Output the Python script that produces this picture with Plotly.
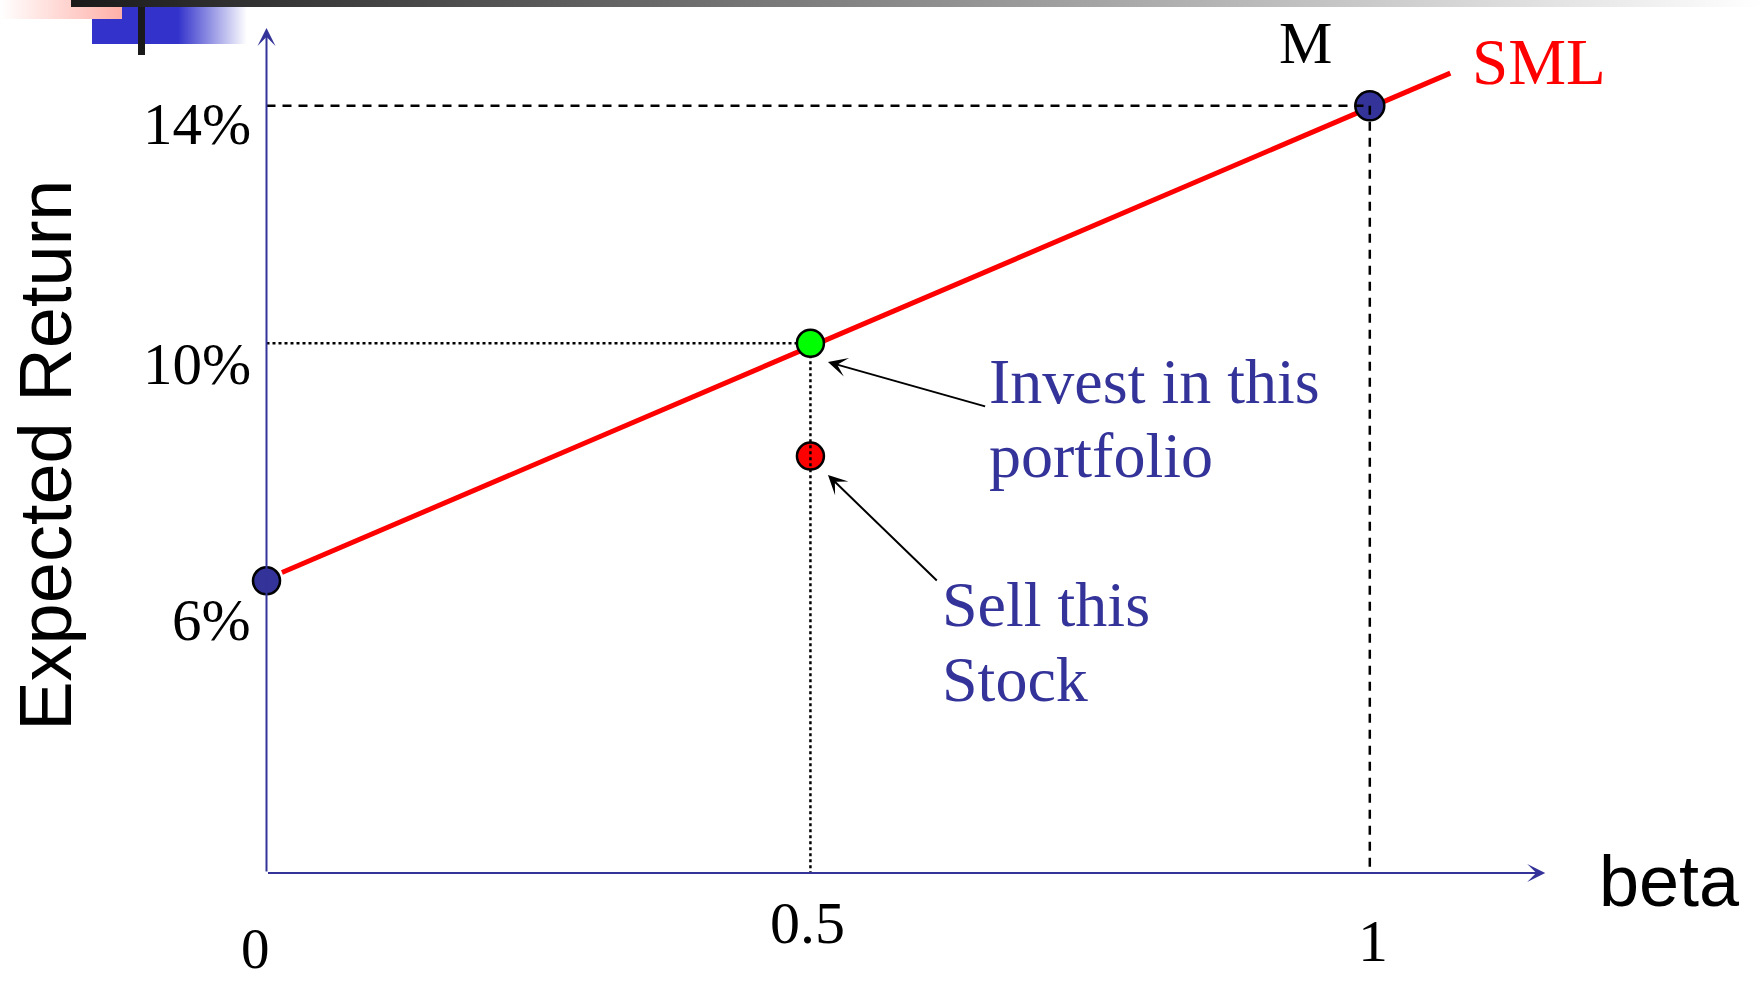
import base64
import plotly.graph_objects as go

# ---------------- data ----------------
point_names = ["Risk-free", "Invest in this portfolio", "Sell this Stock", "M"]
point_beta = [0.0, 0.493, 0.493, 1.0]
point_return = [6.0, 10.0, 8.1, 14.0]

sml_beta = [0.014, 1.073]
sml_return = [6.14, 14.55]

y_tick_values = [14, 10, 6]
y_tick_labels = ["14%", "10%", "6%"]
x_tick_values = [0, 0.5, 1]
x_tick_labels = ["0", "0.5", "1"]

# ---------------- layout constants ----------------
W, H = 1762, 984
X_RANGE = [-0.24155, 1.35548]
Y_RANGE = [-0.791, 15.782]
AXIS_R = 1.08          # level of the drawn beta axis
Y_ARROW_TOP = 15.31
X_ARROW_END = 1.159

SERIF = "Liberation Serif, Times New Roman, serif"
SANS = "Liberation Sans, Arial, sans-serif"
NAVY = "#333399"

fig = go.Figure()

# SML
fig.add_trace(go.Scatter(x=sml_beta, y=sml_return, mode="lines",
                         line=dict(color="#ff0000", width=5), hoverinfo="skip"))


def dot(i, color, size=27):
    fig.add_trace(go.Scatter(x=[point_beta[i]], y=[point_return[i]], mode="markers",
                             name=point_names[i],
                             marker=dict(size=size, color=color,
                                         line=dict(color="black", width=2.5))))


dot(0, NAVY)
dot(2, "#ff0000")
# dotted guide lines to the fair portfolio
fig.add_trace(go.Scatter(x=[point_beta[1], point_beta[1]], y=[point_return[1], AXIS_R],
                         mode="lines", line=dict(color="black", width=2.5, dash="3px,3px")))
fig.add_trace(go.Scatter(x=[0, point_beta[1]], y=[point_return[1], point_return[1]],
                         mode="lines", line=dict(color="black", width=2.5, dash="3px,3px")))
dot(1, "#00ff00")
dot(3, NAVY, 29)
# dashed guide lines to M
fig.add_trace(go.Scatter(x=[0, point_beta[3]], y=[point_return[3], point_return[3]],
                         mode="lines", line=dict(color="black", width=2.5, dash="9px,7px")))
fig.add_trace(go.Scatter(x=[point_beta[3], point_beta[3]], y=[point_return[3], AXIS_R],
                         mode="lines", line=dict(color="black", width=2.5, dash="9px,7px")))

ann = []
# axes with arrows
ann.append(dict(x=0, y=Y_ARROW_TOP, ax=0, ay=AXIS_R, xref="x", yref="y", axref="x", ayref="y",
                text="", showarrow=True, arrowhead=3, arrowwidth=2, arrowsize=1.5,
                arrowcolor=NAVY, standoff=0, startstandoff=0))
ann.append(dict(x=X_ARROW_END, y=AXIS_R, ax=0, ay=AXIS_R, xref="x", yref="y", axref="x", ayref="y",
                text="", showarrow=True, arrowhead=3, arrowwidth=2, arrowsize=1.5,
                arrowcolor=NAVY, standoff=0, startstandoff=0))

# y tick labels
y_label_shift = [-0.31, -0.35, -0.66]
for v, t, s in zip(y_tick_values, y_tick_labels, y_label_shift):
    ann.append(dict(x=-0.0118, y=v + s, xref="x", yref="y", text=t, showarrow=False,
                    xanchor="right", yanchor="middle",
                    font=dict(family=SERIF, size=59, color="black")))
# x tick labels (label, x, y, font size)
x_label_pos = [(-0.0104, -0.20, 57), (0.4899, 0.23, 60), (1.003, -0.06, 60)]
for t, (xx, yy, fs) in zip(x_tick_labels, x_label_pos):
    ann.append(dict(x=xx, y=yy, xref="x", yref="y", text=t, showarrow=False,
                    xanchor="center", yanchor="middle",
                    font=dict(family=SERIF, size=fs, color="black")))

# axis titles
ann.append(dict(x=1.2055, y=0.94, xref="x", yref="y", text="beta", showarrow=False,
                xanchor="left", yanchor="middle", font=dict(family=SANS, size=72, color="black")))
ann.append(dict(x=-0.2, y=8.12, xref="x", yref="y", text="Expected Return", showarrow=False,
                textangle=-90, xanchor="center", yanchor="middle",
                font=dict(family=SANS, size=74, color="black")))

# labels
ann.append(dict(x=0.942, y=15.06, xref="x", yref="y", text="M", showarrow=False,
                xanchor="center", yanchor="middle", font=dict(family=SERIF, size=60, color="black")))
ann.append(dict(x=1.0905, y=14.74, xref="x", yref="y", text="SML", showarrow=False,
                xanchor="left", yanchor="middle", font=dict(family=SERIF, size=65, color="#ff0000")))

for txt, xx, yy in [("Invest in this", 0.653, 9.36), ("portfolio", 0.653, 8.11),
                    ("Sell this", 0.6104, 5.60), ("Stock", 0.6104, 4.34)]:
    ann.append(dict(x=xx, y=yy, xref="x", yref="y", text=txt, showarrow=False,
                    xanchor="left", yanchor="middle", font=dict(family=SERIF, size=64, color=NAVY)))

# pointer arrows
ann.append(dict(x=0.5089, y=9.685, ax=0.6527, ay=8.93, xref="x", yref="y", axref="x", ayref="y",
                text="", showarrow=True, arrowhead=3, arrowwidth=2, arrowsize=1.6,
                arrowcolor="black", standoff=0, startstandoff=0))
ann.append(dict(x=0.5089, y=7.78, ax=0.6089, ay=5.98, xref="x", yref="y", axref="x", ayref="y",
                text="", showarrow=True, arrowhead=3, arrowwidth=2, arrowsize=1.6,
                arrowcolor="black", standoff=0, startstandoff=0))

# slide decoration in the top-left corner
svg = f'''<svg xmlns="http://www.w3.org/2000/svg" width="{W}" height="{H}" viewBox="0 0 {W} {H}" preserveAspectRatio="none">
<defs>
<linearGradient id="g1" x1="0" y1="0" x2="1" y2="0"><stop offset="0" stop-color="#1a1a1a"/><stop offset="1" stop-color="#ffffff"/></linearGradient>
<linearGradient id="g2" x1="0" y1="0" x2="1" y2="0"><stop offset="0" stop-color="#ffffff"/><stop offset="1" stop-color="#ffb0a8"/></linearGradient>
<linearGradient id="g3" x1="0" y1="0" x2="1" y2="0"><stop offset="0" stop-color="#3333cc"/><stop offset="0.555" stop-color="#3333cc"/><stop offset="1" stop-color="#ffffff"/></linearGradient>
</defs>
<rect x="92" y="7" width="155" height="37" fill="url(#g3)"/>
<rect x="0" y="0" width="122" height="19" fill="url(#g2)"/>
<rect x="71" y="0" width="1691" height="7" fill="url(#g1)"/>
<rect x="138" y="7" width="7" height="48" fill="#1a1a1a"/>
</svg>'''
src = "data:image/svg+xml;base64," + base64.b64encode(svg.encode()).decode()

fig.update_layout(
    width=W, height=H,
    margin=dict(l=0, r=0, t=0, b=0),
    paper_bgcolor="white", plot_bgcolor="white",
    showlegend=False,
    xaxis=dict(range=X_RANGE, visible=False, fixedrange=True),
    yaxis=dict(range=Y_RANGE, visible=False, fixedrange=True),
    annotations=ann,
    images=[dict(source=src, xref="paper", yref="paper", x=0, y=1, sizex=1, sizey=1,
                 sizing="stretch", xanchor="left", yanchor="top", layer="below")],
)

fig.write_html("out.html", config={"displayModeBar": False},
               post_script="document.body.style.margin='0';document.body.style.overflow='hidden';")
